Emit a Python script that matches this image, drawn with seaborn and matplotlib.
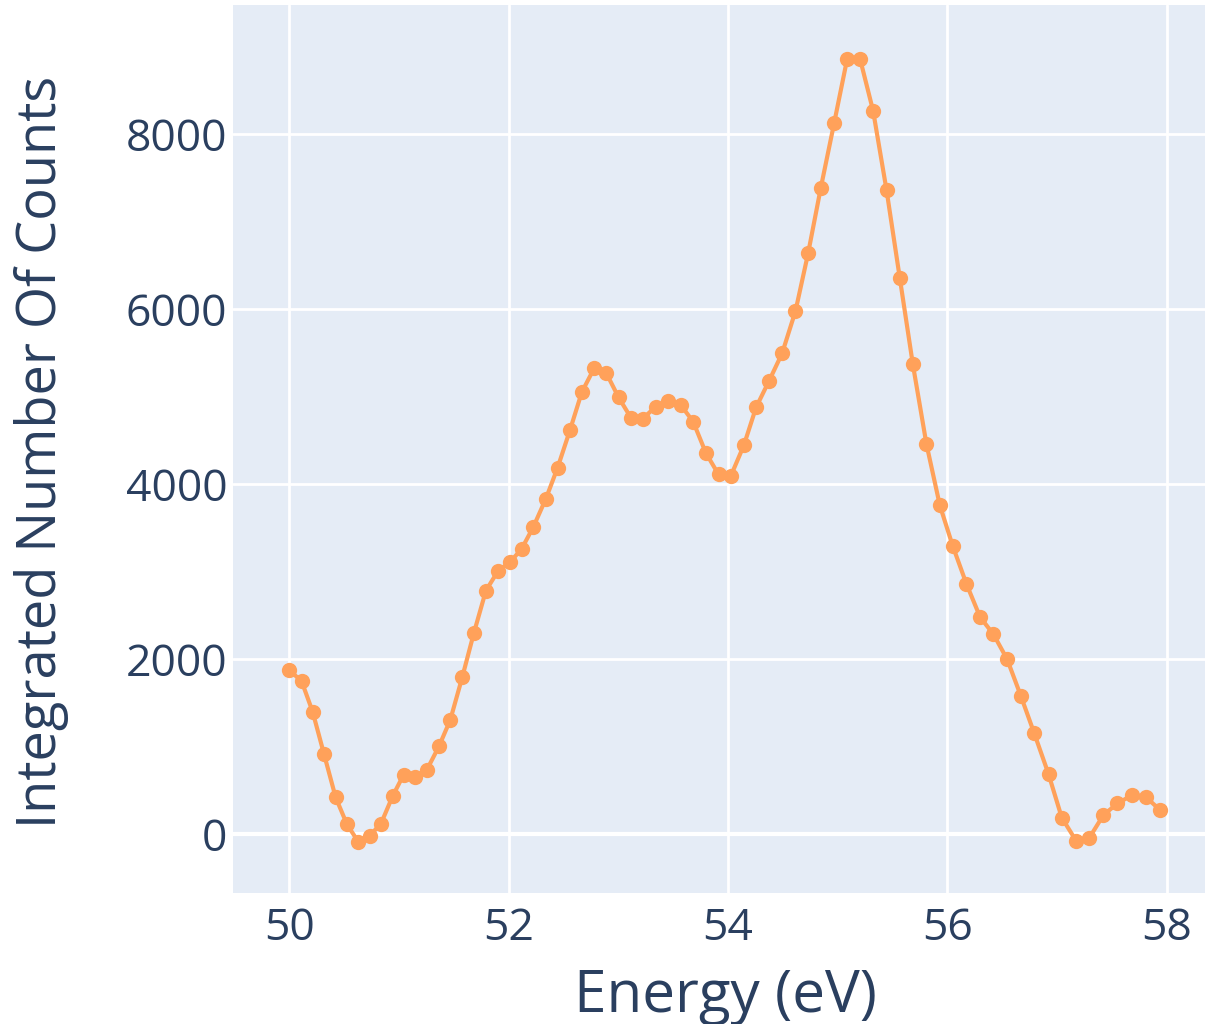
import numpy as np
import pandas as pd
import matplotlib
matplotlib.use("Agg")
import matplotlib.pyplot as plt
import seaborn as sns

energy = [50.000, 50.113, 50.213, 50.316, 50.423, 50.526, 50.629, 50.733, 50.836, 50.943,
          51.043, 51.149, 51.255, 51.365, 51.468, 51.577, 51.684, 51.793, 51.905, 52.012,
          52.118, 52.224, 52.340, 52.447, 52.559, 52.668, 52.780, 52.890, 53.003, 53.115,
          53.224, 53.340, 53.455, 53.568, 53.683, 53.799, 53.914, 54.026, 54.145, 54.257,
          54.376, 54.494, 54.616, 54.731, 54.847, 54.968, 55.087, 55.205, 55.324, 55.446,
          55.567, 55.686, 55.810, 55.932, 56.050, 56.175, 56.299, 56.421, 56.545, 56.670,
          56.791, 56.923, 57.044, 57.174, 57.296, 57.424, 57.552, 57.682, 57.810, 57.944]
counts = [1874, 1745, 1398, 918, 419, 111, -88, -19, 118, 434,
          678, 651, 735, 1002, 1303, 1790, 2300, 2781, 3009, 3105,
          3257, 3505, 3832, 4187, 4613, 5051, 5322, 5269, 4990, 4758,
          4747, 4883, 4949, 4906, 4712, 4354, 4110, 4091, 4442, 4877,
          5181, 5493, 5977, 6636, 7386, 8122, 8857, 8857, 8263, 7360,
          6354, 5368, 4457, 3757, 3291, 2857, 2480, 2282, 2000, 1581,
          1158, 686, 187, -76, -42, 217, 350, 442, 423, 270]
x_ticks = [50, 52, 54, 56, 58]
y_ticks = [0, 2000, 4000, 6000, 8000]
x_title = "Energy (eV)"
y_title = "Integrated Number Of Counts"

df = pd.DataFrame({"energy": energy, "counts": counts})

sns.set_theme(style="darkgrid")
plt.rcParams['font.family'] = ['Open Sans', 'DejaVu Sans']

text_color = '#2a3f5f'
fig = plt.figure(figsize=(12.05, 10.24), dpi=100)
ax = fig.add_axes([233/1205, 1-893/1024, 972/1205, 888/1024])
ax.set_facecolor('#E5ECF6')

sns.lineplot(data=df, x="energy", y="counts", ax=ax, color='#FFA15A', linewidth=3,
             marker='o', markersize=11, markeredgewidth=0, zorder=3)

ax.set_xlim(49.487, 58.35)
ax.set_ylim(-674, 9474)
ax.set_xticks(x_ticks)
ax.set_yticks(y_ticks)
ax.set_xticklabels([str(t) for t in x_ticks])
ax.set_yticklabels([str(t) for t in y_ticks])
ax.grid(True, color='white', linewidth=2)
ax.axhline(0, color='white', linewidth=3, zorder=1)
for s in ax.spines.values():
    s.set_visible(False)
ax.tick_params(axis='both', length=0, labelsize=32, colors=text_color)
ax.tick_params(axis='y', pad=4)
ax.tick_params(axis='x', pad=10)
ax.set_xlabel("")
ax.set_ylabel("")

fig.text(725/1205, 1-997/1024, x_title, ha='center', va='center', fontsize=42, color=text_color)
fig.text(42/1205, 1-452/1024, y_title, ha='center', va='center', rotation=90, fontsize=39, color=text_color)

fig.savefig("out.png", dpi=100)
